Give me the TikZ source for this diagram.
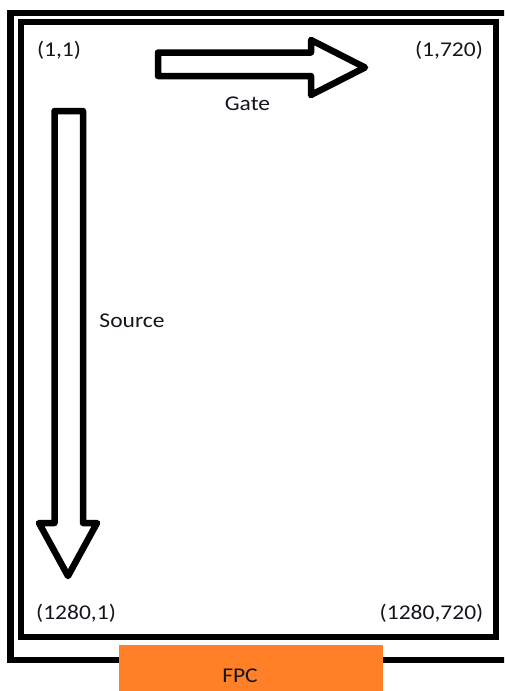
\documentclass[tikz,border=0pt]{standalone}
\usepackage{fontspec}
\setmainfont{Carlito}[FakeStretch=1.12]
\definecolor{fpcorange}{RGB}{255,128,38}
\definecolor{txt}{RGB}{20,22,30}
\tikzset{
  frame/.style={draw=black, line width=6.5pt, line join=miter},
  bigarrow/.style={draw=black, fill=white, line width=6.5pt, line join=round},
  lbl/.style={inner sep=0pt, text=txt, font=\fontsize{21}{24}\selectfont},
}
\begin{document}
\begin{tikzpicture}[x=1pt, y=-1pt]
\useasboundingbox (0,0) rectangle (504,691);
\clip (0,0) rectangle (504,691);
% frames
\draw[frame] (10.5,13) rectangle (530,660);
\draw[frame] (21,22) rectangle (496,637);
% FPC connector
\fill[fpcorange] (119,645) rectangle (383,700);
\node[lbl, anchor=base] (fpc) at (240,682) {FPC};
% Gate arrow
\draw[bigarrow] (158,52.5) -- (311,52.5) -- (311,40) -- (365,67.5) -- (311,95) -- (311,76) -- (158,76) -- cycle;
\node[lbl, anchor=base] (gate) at (247.5,110) {Gate};
% Source arrow
\draw[bigarrow] (54.5,111) -- (83,111) -- (83,523) -- (97,523) -- (68,576) -- (39,523) -- (54.5,523) -- cycle;
\node[lbl, anchor=base] (source) at (132,327) {Source};
% corner coordinates
\node[lbl] (c11) at (59,50) {(1,1)};
\node[lbl] (c1720) at (449,50) {(1,720)};
\node[lbl] (c12801) at (76,613) {(1280,1)};
\node[lbl] (c1280720) at (431.5,613) {(1280,720)};
\end{tikzpicture}
\end{document}
